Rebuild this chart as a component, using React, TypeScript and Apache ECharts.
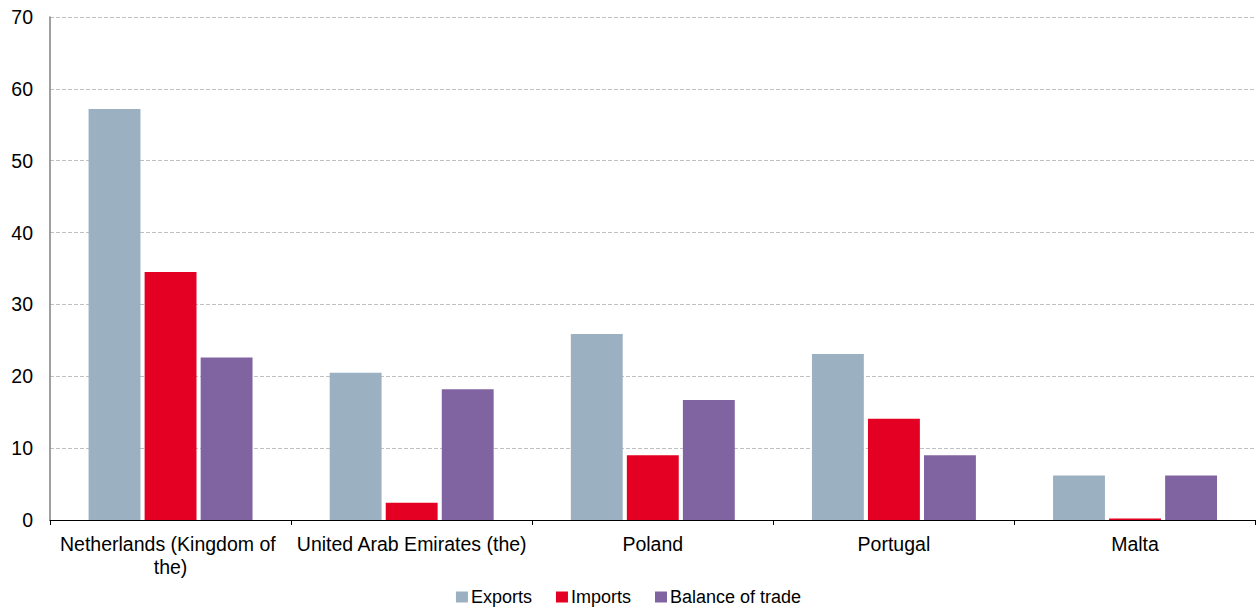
import React, { useEffect, useRef } from "react";
import * as echarts from "echarts";

const categories = [
  "Netherlands (Kingdom of the)",
  "United Arab Emirates (the)",
  "Poland",
  "Portugal",
  "Malta",
];
const exportsData = [57.2, 20.5, 25.9, 23.1, 6.2];
const importsData = [34.5, 2.4, 9.0, 14.1, 0.2];
const balanceData = [22.6, 18.2, 16.7, 9.0, 6.2];
const seriesNames = ["Exports", "Imports", "Balance of trade"];
const colors = ["#9BB0C1", "#E30022", "#8064A2"];

export default function App() {
  const ref = useRef<HTMLDivElement>(null);
  useEffect(() => {
    if (!ref.current) return;
    const chart = echarts.init(ref.current, null, { renderer: "svg" });
    const font = "'Liberation Sans', Arial, sans-serif";
    chart.setOption({
      animation: false,
      textStyle: { fontFamily: font },
      grid: { left: 50, right: 1, top: 17, bottom: 88, containLabel: false },
      legend: {
        top: 587,
        padding: 0,
        left: "center",
        itemWidth: 12,
        itemHeight: 11,
        itemGap: 24,
        icon: "rect",
        textStyle: { fontSize: 18, lineHeight: 20, color: "#000", fontFamily: font, padding: [0, 0, 0, -2] },
        data: seriesNames,
      },
      xAxis: {
        type: "category",
        data: categories,
        axisLine: { lineStyle: { color: "#000", width: 1 } },
        axisTick: { show: true, length: 5, lineStyle: { color: "#000" } },
        axisLabel: {
          interval: 0,
          color: "#000",
          fontSize: 19.5,
          fontFamily: font,
          margin: 12,
          width: 238,
          overflow: "break",
          lineHeight: 23,
        },
      },
      yAxis: {
        type: "value",
        min: 0,
        max: 70,
        interval: 10,
        axisLine: { show: true, lineStyle: { color: "#808080", width: 1.5 } },
        axisTick: { show: false },
        axisLabel: { color: "#000", fontSize: 19.5, fontFamily: font, margin: 17 },
        splitLine: { lineStyle: { color: "#c0c0c0", type: "dashed", width: 1 } },
      },
      series: [exportsData, importsData, balanceData].map((d, i) => ({
        name: seriesNames[i],
        type: "bar",
        data: d,
        barGap: "8%",
        barCategoryGap: "32%",
        itemStyle: { color: colors[i] },
      })),
    });
    return () => chart.dispose();
  }, []);
  return (
    <div
      ref={ref}
      style={{ position: "fixed", left: 0, top: 0, width: 1257, height: 608, background: "#fff" }}
    />
  );
}
